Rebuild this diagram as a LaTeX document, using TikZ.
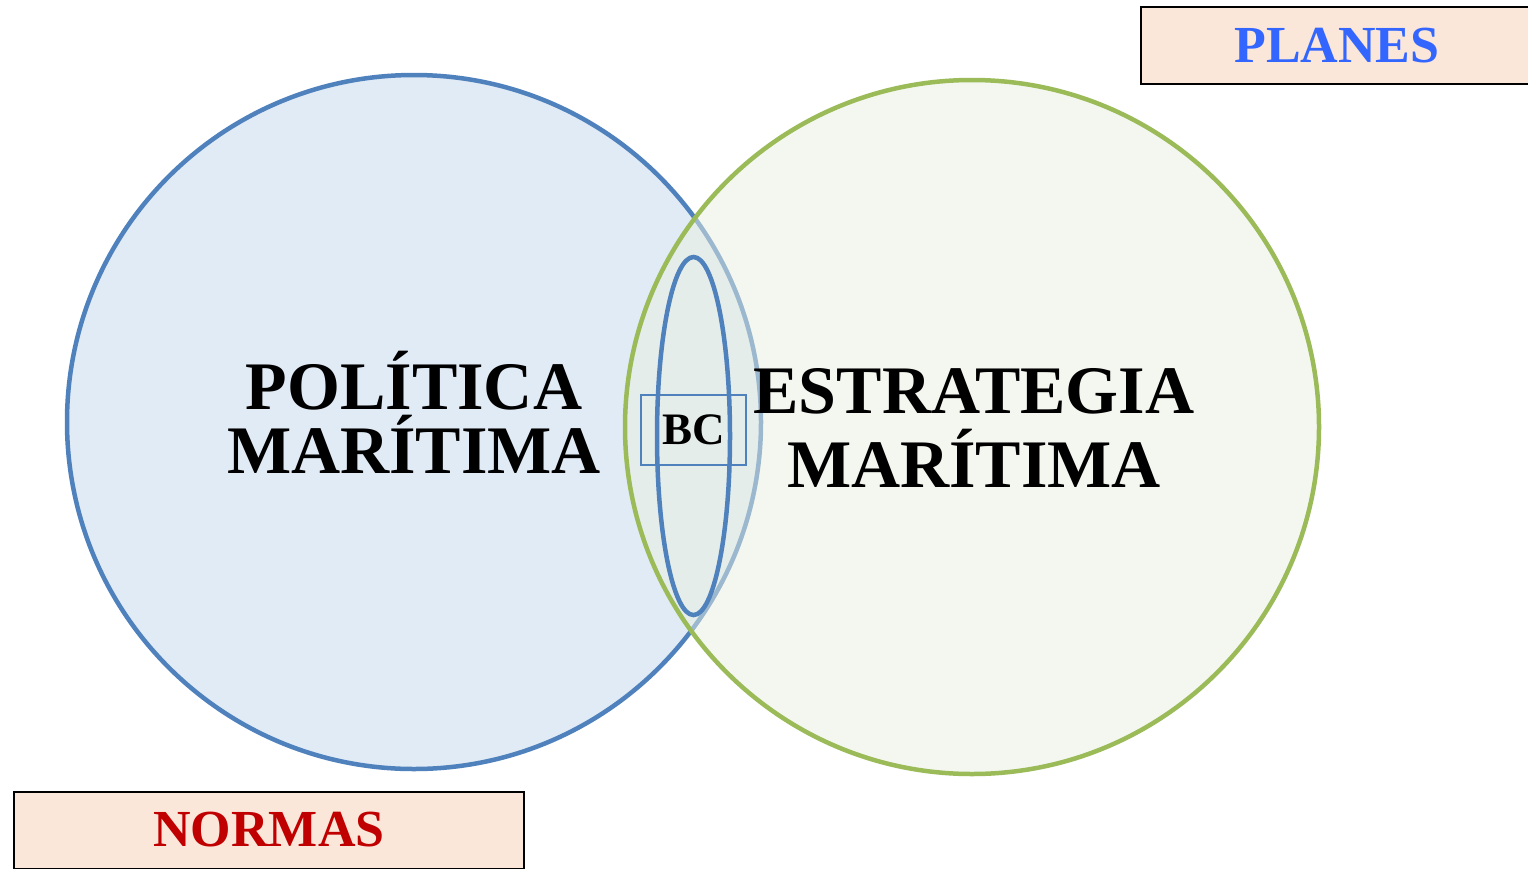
\documentclass[tikz,border=0pt]{standalone}
\usepackage{fontspec}
\setmainfont{Liberation Serif}
\usetikzlibrary{shapes.geometric}
\definecolor{polblue}{RGB}{79,129,189}
\definecolor{polfill}{RGB}{225,235,245}
\definecolor{estgreen}{RGB}{155,187,89}
\definecolor{estfill}{RGB}{234,240,226}
\definecolor{tagfill}{RGB}{251,231,217}
\definecolor{planblue}{RGB}{51,102,255}
\definecolor{normred}{RGB}{192,0,0}
\begin{document}
\begin{tikzpicture}[
    x=1pt, y=-1pt,
    set/.style={circle, draw, line width=4.5pt, minimum size=694pt, inner sep=0pt},
    title/.style={font=\fontsize{68}{64}\selectfont\bfseries, align=center, inner sep=0pt},
    tag/.style={rectangle, draw, fill=tagfill, line width=2pt, minimum height=77pt,
        font=\fontsize{52}{60}\selectfont\bfseries}
]
    \useasboundingbox (0,0) rectangle (1528,868);

    % the two sets
    \node[set, draw=polblue, fill=polfill] (politica) at (414,422) {};
    \node[set, draw=estgreen, fill=estfill, fill opacity=0.5] (estrategia) at (972,427) {};
    \node[ellipse, draw=polblue, line width=4.5pt, minimum width=73pt, minimum height=358pt,
        inner sep=0pt] (nucleo) at (693.5,436) {};

    % labels
    \node[title] (polText) at (414,412) {POLÍTICA\\MARÍTIMA};
    \node[title, font=\fontsize{68}{74}\selectfont\bfseries] (estText) at (974,428) {ESTRATEGIA\\MARÍTIMA};
    \node[rectangle, draw=polblue, line width=1.5pt, minimum width=105pt, minimum height=70pt,
        font=\fontsize{45}{50}\selectfont\bfseries] (bc) at (693.5,430) {BC};

    % tags
    \node[tag, minimum width=392pt, text=planblue] (planes) at (1337,45.5) {PLANES};
    \node[tag, minimum width=510pt, text=normred] (normas) at (269,830) {NORMAS};
\end{tikzpicture}
\end{document}
